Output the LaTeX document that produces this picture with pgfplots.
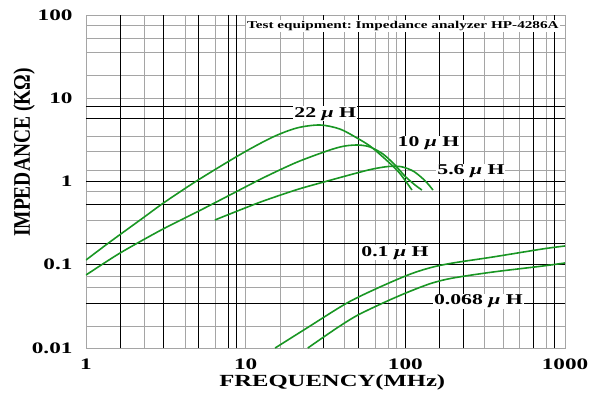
\documentclass[border=0pt]{standalone}
\usepackage{pgfplots}
\pgfplotsset{compat=1.18}
\usepackage{fontspec}
\setmainfont{Liberation Serif}
\newfontfamily\wide[FakeStretch=1.45]{Liberation Serif}
\definecolor{curve}{RGB}{25,150,35}
\definecolor{gridgray}{RGB}{165,165,165}
\frenchspacing
\begin{document}
\begin{tikzpicture}
\begin{axis}[
  scale only axis, width=479pt, height=333pt,
  xmode=log, ymode=log,
  xmin=1, xmax=1000, ymin=0.01, ymax=100,
  xtick={1,10,100,1000}, xticklabels={1,10,100,1000},
  ytick={0.01,0.1,1,10,100}, yticklabels={0.01,0.1,1,10,100},
  major tick length=0pt, minor tick length=0pt,
  minor xtick={2.32,4.17,6.42,10,16.4,22.9,41.3,64.5,78.2,88.2,315,410,517,767},
  minor ytick={75.8,53,35.9,19,10,3.45,2.28,1.37,0.754,0.345,0.0718,0.054,0.018},
  extra x ticks={1.633,3.05,5.05,7.78,8.78,30.6,50.7,100,163,231,632,864},
  extra y ticks={7.91,5.74,1,0.537,0.181,0.1,0.0344},
  extra x tick labels={}, extra y tick labels={},
  extra tick style={grid=major, major grid style={black, line width=0.95pt}},
  xminorgrids=true, yminorgrids=true,
  minor grid style={gridgray, line width=0.8pt},
  axis line style={gridgray, line width=0.9pt},
  tick label style={font=\wide\fontsize{16}{18}\selectfont\bfseries},
  yticklabel style={xshift=-10pt},
  xticklabel style={yshift=-7pt},
  xlabel={\wide\fontsize{17}{20}\selectfont\bfseries FREQUENCY(MHz)},
  ylabel={\scalebox{1}[1.22]{\fontsize{19.5}{21}\selectfont\bfseries IMPEDANCE (KΩ)}},
  xlabel style={at={(axis description cs:0.514,-0.102)}, anchor=center},
  ylabel style={at={(axis description cs:-0.129,0.587)}, anchor=center},
  clip=true,
]
% 22 uH
\addplot[curve, line width=1.6pt, smooth, tension=0.5] coordinates {
(1,0.114) (1.41,0.1875) (2.27,0.364) (3.12,0.567) (5.03,1.04) (9.4,2.15) (14.8,3.42) (21.0,4.40) (29.2,4.77) (38.9,4.27) (49.8,3.33) (60,2.67) (72.4,1.97) (88.6,1.37) (99.4,1.04) (110,0.79)};
% 10 uH
\addplot[curve, line width=1.6pt, smooth, tension=0.5] coordinates {
(1,0.0753) (1.56,0.131) (2.27,0.198) (3.12,0.276) (4.95,0.43) (7.98,0.689) (12.8,1.10) (21.0,1.71) (33.7,2.39) (41.9,2.67) (50.8,2.74) (60,2.60) (72.4,2.14) (86.1,1.58) (99.4,1.16) (115,0.908) (127,0.79)};
% 5.6 uH
\addplot[curve, line width=1.6pt, smooth, tension=0.5] coordinates {
(6.42,0.345) (8.82,0.44) (12.8,0.58) (21,0.80) (30.5,0.98) (50.8,1.28) (64.5,1.43) (80.1,1.52) (95.2,1.50) (113,1.32) (133,1.02) (149,0.79)};
% 0.1 uH
\addplot[curve, line width=1.6pt, smooth, tension=0.5] coordinates {
(15.3,0.01) (24.2,0.0174) (43.1,0.0347) (69.3,0.054) (107,0.077) (146,0.093) (199,0.105) (354,0.124) (727,0.155) (1000,0.168)};
% 0.068 uH
\addplot[curve, line width=1.6pt, smooth, tension=0.5] coordinates {
(24.5,0.01) (37.3,0.0174) (50.5,0.0249) (76.7,0.0365) (107,0.048) (146,0.060) (199,0.0693) (354,0.0818) (727,0.0966) (1000,0.105)};

\tikzset{lbl/.style={fill=white, inner sep=1pt, anchor=base, font=\wide\fontsize{15}{17}\selectfont\bfseries}}
\node[lbl] at (axis cs:31.5,5.95) {22 \textit{μ} H};
\node[lbl] at (axis cs:139.6,2.62) {10 \textit{μ} H};
\node[lbl] at (axis cs:257.6,1.197) {5.6 \textit{μ} H};
\node[lbl] at (axis cs:86.1,0.1264) {0.1 \textit{μ} H};
\node[lbl] at (axis cs:287,0.0329) {0.068 \textit{μ} H};
\node[fill=white, inner sep=1pt, anchor=base, font=\wide\fontsize{10.5}{12}\selectfont\bfseries] at (axis cs:96.6,69.2) {Test equipment: Impedance analyzer HP-4286A};
\end{axis}
\pgfresetboundingbox
\path (current axis.south west) ++(-86pt,-50pt) rectangle ++(593pt,398pt);
\end{tikzpicture}
\end{document}
